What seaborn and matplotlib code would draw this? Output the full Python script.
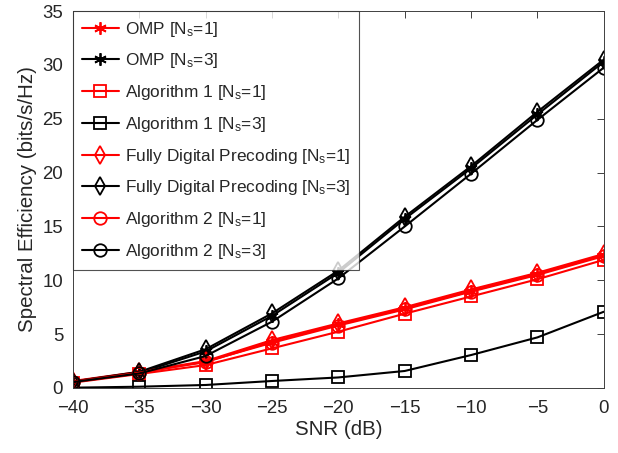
import numpy as np
import pandas as pd
import matplotlib
matplotlib.use("Agg")
import matplotlib.pyplot as plt
import seaborn as sns

snr = [-40, -35, -30, -25, -20, -15, -10, -5, 0]

omp_ns1 = [0.60, 1.45, 2.40, 4.30, 5.90, 7.40, 9.00, 10.60, 12.35]
omp_ns3 = [0.55, 1.40, 3.40, 6.70, 10.70, 15.70, 20.40, 25.40, 30.30]
alg1_ns1 = [0.50, 1.30, 2.13, 3.68, 5.23, 6.90, 8.50, 10.10, 11.90]
alg1_ns3 = [0.03, 0.12, 0.28, 0.65, 0.98, 1.58, 3.06, 4.70, 7.08]
fd_ns1 = [0.65, 1.50, 2.50, 4.45, 6.00, 7.50, 9.15, 10.70, 12.45]
fd_ns3 = [0.60, 1.50, 3.60, 6.93, 10.90, 15.90, 20.60, 25.65, 30.50]
alg2_ns1 = [0.58, 1.42, 2.45, 4.20, 5.80, 7.30, 8.95, 10.50, 12.25]
alg2_ns3 = [0.55, 1.35, 2.97, 6.16, 10.18, 15.00, 19.90, 24.90, 29.75]

labels = [
    r"OMP [N$_\mathregular{s}$=1]",
    r"OMP [N$_\mathregular{s}$=3]",
    r"Algorithm 1 [N$_\mathregular{s}$=1]",
    r"Algorithm 1 [N$_\mathregular{s}$=3]",
    r"Fully Digital Precoding [N$_\mathregular{s}$=1]",
    r"Fully Digital Precoding [N$_\mathregular{s}$=3]",
    r"Algorithm 2 [N$_\mathregular{s}$=1]",
    r"Algorithm 2 [N$_\mathregular{s}$=3]",
]
series = [omp_ns1, omp_ns3, alg1_ns1, alg1_ns3, fd_ns1, fd_ns3, alg2_ns1, alg2_ns3]
colors = ["#ff0000", "#000000"] * 4
markers = [(6, 2, 0), (6, 2, 0), "s", "s", "d", "d", "o", "o"]
msizes = [9, 9, 8, 8, 9, 9, 9, 9]

sns.set_theme(style="white")
plt.rcParams["font.family"] = ["Liberation Sans", "DejaVu Sans"]
plt.rcParams["mathtext.fontset"] = "custom"
plt.rcParams["mathtext.rm"] = "Liberation Sans"
plt.rcParams["mathtext.it"] = "Liberation Sans"

fig = plt.figure(figsize=(6.18, 4.53), dpi=100)
ax = fig.add_axes([0.118, 0.1435, 0.859, 0.832])

for lab, ys, c, m, ms in zip(labels, series, colors, markers, msizes):
    sns.lineplot(x=snr, y=ys, ax=ax, color=c, marker=m, markersize=ms,
                 markerfacecolor="none", markeredgecolor=c, markeredgewidth=1.3,
                 linewidth=1.5, label=lab)

ax.set_xlim(-40, 0)
ax.set_ylim(0, 35)
ax.set_xticks(snr)
ax.set_yticks(np.arange(0, 36, 5))
ax.set_xlabel("SNR (dB)", fontsize=14.8, color="#262626", labelpad=2)
ax.set_ylabel("Spectral Efficiency (bits/s/Hz)", fontsize=14.8, color="#262626", labelpad=4)
ax.tick_params(direction="in", length=5, width=0.7, labelsize=13.4,
               top=True, right=True, colors="#404040", labelcolor="#262626", pad=7)
ax.tick_params(axis="x", pad=9)
for sp in ax.spines.values():
    sp.set_color("#404040")
    sp.set_linewidth(0.7)
    sp.set_visible(True)

leg = ax.legend(loc="upper left", borderaxespad=0, fontsize=12.4, frameon=True,
                fancybox=False, edgecolor="#262626", handlelength=2.2,
                labelspacing=0.74, borderpad=0.5, handletextpad=0.3)
leg.get_frame().set_linewidth(0.8)

fig.savefig("out.png", dpi=100)
